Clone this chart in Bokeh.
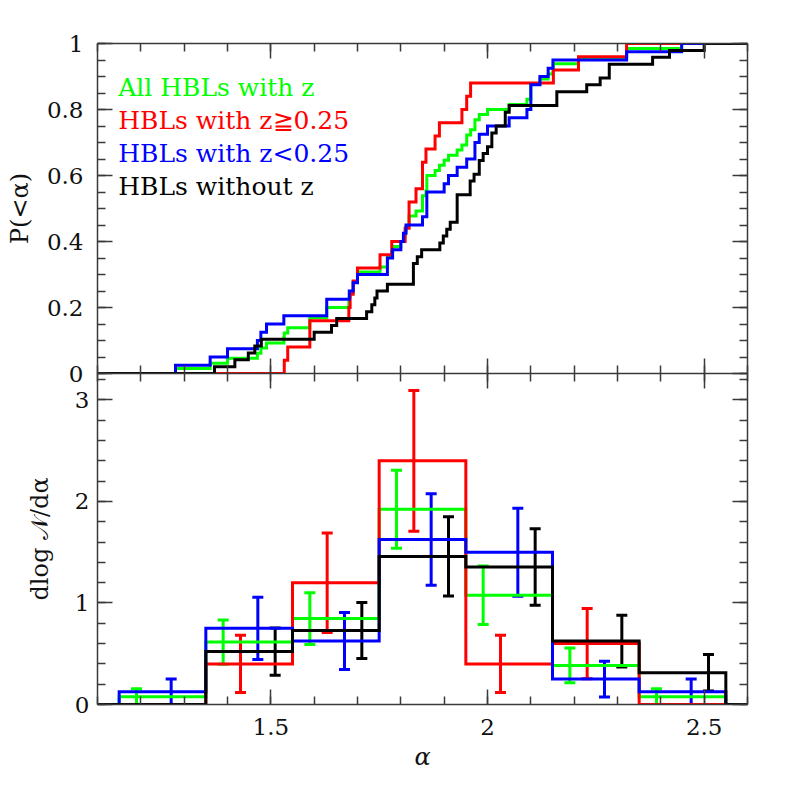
from bokeh.plotting import figure
from bokeh.layouts import column
from bokeh.models import (Range1d, LinearAxis, SingleIntervalTicker, CustomJSTickFormatter,
                          Whisker, TeeHead, ColumnDataSource, Label)
from bokeh.transform import dodge
from bokeh.embed import file_html
from bokeh.resources import INLINE

# ---------------- data ----------------
# spectral index alpha of each source
alpha_z_hi = [1.531, 1.539, 1.590, 1.590, 1.680, 1.683, 1.690, 1.700,
              1.752, 1.779, 1.810, 1.819, 1.819, 1.835, 1.850, 1.850, 1.858, 1.879, 1.889, 1.941,
              1.952, 1.961, 2.152, 2.210, 2.321]
alpha_z_lo = [1.280, 1.360, 1.400, 1.469, 1.477, 1.490, 1.530,
              1.629, 1.629, 1.681, 1.690, 1.700,
              1.769, 1.769, 1.781, 1.800, 1.806, 1.812, 1.850, 1.860, 1.860, 1.860, 1.900, 1.910, 1.930,
              1.952, 1.971, 1.971, 1.981, 2.000, 2.050, 2.091, 2.100, 2.100, 2.100, 2.121, 2.140,
              2.151, 2.321, 2.448]
alpha_no_z = [1.370, 1.417, 1.448, 1.463, 1.478,
              1.600, 1.640, 1.652, 1.721, 1.733, 1.740, 1.745,
              1.769, 1.829, 1.829, 1.829, 1.838, 1.848, 1.890, 1.898, 1.906, 1.914,
              1.930, 1.930, 1.930, 1.930,
              1.960, 1.960, 1.969, 1.981, 1.981, 1.990, 2.000, 2.010, 2.010, 2.020, 2.041, 2.041, 2.050,
              2.160, 2.160, 2.229, 2.260, 2.281, 2.281,
              2.381, 2.420, 2.500]
alpha_all_z = alpha_z_hi + alpha_z_lo

# differential distributions (bottom panel)
bin_edges = [1.15, 1.35, 1.55, 1.75, 1.95, 2.15, 2.35, 2.55]
dn_all = [0.077, 0.615, 0.846, 1.923, 1.077, 0.385, 0.077]
er_all = [0.077, 0.218, 0.255, 0.385, 0.288, 0.172, 0.077]
dn_hi = [0.0, 0.40, 1.20, 2.40, 0.40, 0.60, 0.0]
er_hi = [0.0, 0.283, 0.490, 0.693, 0.283, 0.346, 0.0]
dn_lo = [0.125, 0.75, 0.625, 1.625, 1.50, 0.25, 0.125]
er_lo = [0.125, 0.306, 0.280, 0.451, 0.433, 0.177, 0.125]
dn_noz = [0.0, 0.521, 0.729, 1.458, 1.354, 0.625, 0.3125]
er_noz = [0.0, 0.233, 0.276, 0.390, 0.376, 0.255, 0.180]

labels = ["All HBLs with z", "HBLs with z\u22670.25", "HBLs with z<0.25", "HBLs without z"]
colors = ["#00ff00", "#ff0000", "#0000ff", "#000000"]

samples = [alpha_all_z, alpha_z_hi, alpha_z_lo, alpha_no_z]
hists = [dn_all, dn_hi, dn_lo, dn_noz]
errs = [er_all, er_hi, er_lo, er_noz]

# ---------------- styling ----------------
X0, X1 = 1.1, 2.6
FONT = "DejaVu Serif"
AX = "#3a3a3a"
TXT = "#111111"
LW = 3
offsets = [-0.06, -0.02, 0.02, 0.06]
GAP = 24  # space under the top frame, overlapped by the lower panel

xr = Range1d(X0, X1)
fmt = CustomJSTickFormatter(code="return String(+tick.toFixed(2));")


def add_axis(p, side, ticker, show_labels, label=None, standoff=10,
             label_standoff=10, tick_out=0):
    ax = LinearAxis(ticker=ticker, formatter=fmt)
    ax.major_tick_in = 15
    ax.major_tick_out = 15 if tick_out else 0
    ax.minor_tick_in = 8
    ax.minor_tick_out = 8 if tick_out else 0
    ax.axis_line_color = AX
    ax.axis_line_width = 1.5
    ax.major_tick_line_color = AX
    ax.minor_tick_line_color = AX
    ax.major_tick_line_width = 1.5
    ax.minor_tick_line_width = 1.5
    if show_labels:
        ax.major_label_text_font = FONT
        ax.major_label_text_font_size = "23px"
        ax.major_label_text_color = TXT
        ax.major_label_standoff = standoff
    else:
        ax.major_label_text_font_size = "1px"
        ax.major_label_text_color = None
        ax.major_label_standoff = 0
    if label is not None:
        ax.axis_label = label
        ax.axis_label_text_font = FONT
        ax.axis_label_text_font_size = "24px"
        ax.axis_label_text_font_style = "normal"
        ax.axis_label_text_color = TXT
        ax.axis_label_standoff = label_standoff
    p.add_layout(ax, side)
    return ax


def base_fig(yr, fh, top, bottom):
    p = figure(x_range=xr, y_range=yr, frame_width=650, frame_height=fh,
               x_axis_location=None, y_axis_location=None,
               toolbar_location=None, output_backend="svg",
               min_border_left=97, min_border_right=20,
               min_border_top=top, min_border_bottom=bottom)
    p.outline_line_color = None
    p.grid.visible = False
    return p


# ---------------- top panel: cumulative distributions ----------------
p1 = base_fig(Range1d(0, 1), 330, 43, GAP)
xt = SingleIntervalTicker(interval=0.5, num_minor_ticks=5)
yt1 = SingleIntervalTicker(interval=0.2, num_minor_ticks=4)
add_axis(p1, "left", yt1, True, "P(<\u03b1)", standoff=14, label_standoff=10)
add_axis(p1, "right", yt1, False)
add_axis(p1, "above", xt, False)
add_axis(p1, "below", xt, False, tick_out=True)  # shared boundary with the lower panel

for vals, c in zip(samples, colors):
    s = sorted(vals)
    n = len(s)
    xs = [X0] + s + [X1]
    ys = [0.0] + [(i + 1) / n for i in range(n)] + [1.0]
    p1.step(xs, ys, mode="after", line_color=c, line_width=LW, line_join="miter")

for i, (t, c) in enumerate(zip(labels, colors)):
    p1.add_layout(Label(x=1.148, y=0.868 - 0.1 * i, text=t, text_color=c,
                        text_font=FONT, text_font_size="25px", text_baseline="alphabetic"))

# ---------------- bottom panel: differential distributions ----------------
p2 = base_fig(Range1d(0, 3.26), 331, 0, 70)
p2.background_fill_color = None
p2.border_fill_color = None
p2.styles = {"margin-top": "-%dpx" % GAP}
yt2 = SingleIntervalTicker(interval=1, num_minor_ticks=5)
add_axis(p2, "left", yt2, True, "dlog \U0001D4A9/d\u03b1", standoff=8, label_standoff=18)
add_axis(p2, "right", yt2, False)
xb = add_axis(p2, "below", xt, True, "\u03b1", standoff=14, label_standoff=5)
xb.axis_label_text_font_style = "italic"

centers = [(a + b) / 2 for a, b in zip(bin_edges[:-1], bin_edges[1:])]
for h, e, c, off in zip(hists, errs, colors, offsets):
    xs = [X0] + bin_edges + [X1]
    ys = [0.0] + h + [0.0, 0.0]
    p2.step(xs, ys, mode="after", line_color=c, line_width=LW, line_join="miter")
    keep = [k for k in range(len(h)) if h[k] > 0]
    src = ColumnDataSource(dict(
        base=[centers[k] for k in keep],
        lower=[max(h[k] - e[k], 0.0) for k in keep],
        upper=[h[k] + e[k] for k in keep]))
    w = Whisker(source=src, base=dodge("base", off), lower="lower", upper="upper",
                dimension="height", line_color=c, line_width=LW,
                upper_head=TeeHead(size=11, line_color=c, line_width=LW),
                lower_head=TeeHead(size=11, line_color=c, line_width=LW))
    p2.add_layout(w)

layout = column(p1, p2)
open("out.html", "w").write(file_html(layout, INLINE))
